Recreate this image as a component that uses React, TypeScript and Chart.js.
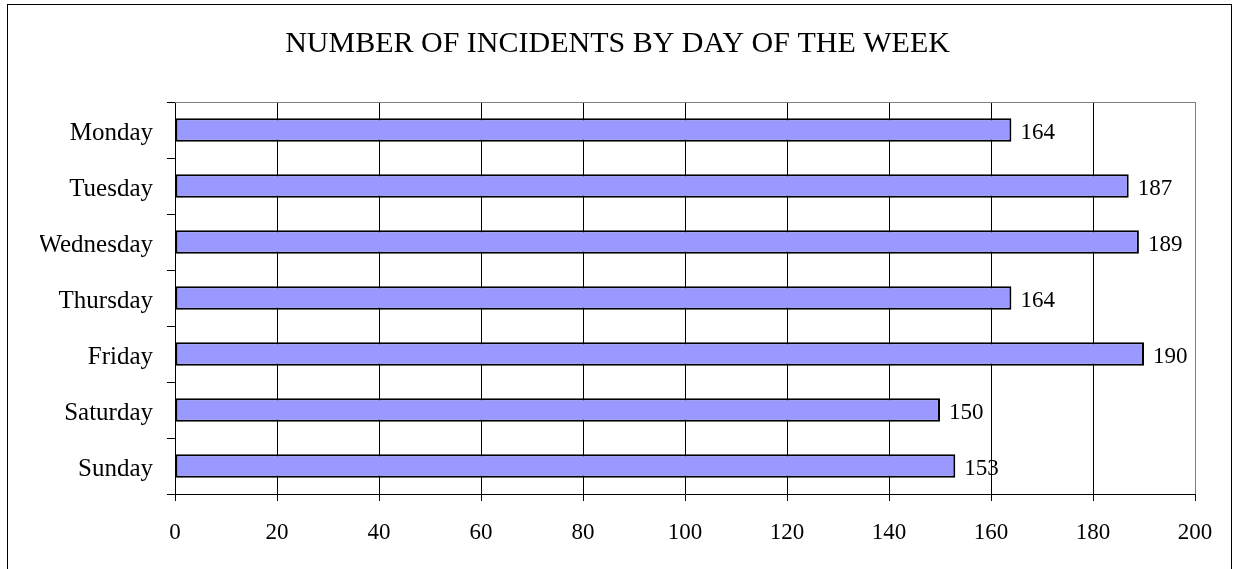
import React, { useEffect, useRef } from "react";
import { Chart, registerables } from "chart.js";

Chart.register(...registerables);

const days = ["Monday", "Tuesday", "Wednesday", "Thursday", "Friday", "Saturday", "Sunday"];
const incidents = [164, 187, 189, 164, 190, 150, 153];
const titleText = "NUMBER OF INCIDENTS BY DAY OF THE WEEK";
const xMin = 0;
const xMax = 200;
const xStep = 20;

const FONT = "'Liberation Serif', 'Times New Roman', Times, serif";

export default function App() {
  const ref = useRef<HTMLCanvasElement>(null);

  useEffect(() => {
    const canvas = ref.current;
    if (!canvas) return;

    const valueLabels = {
      id: "valueLabels",
      afterDatasetsDraw(chart: any) {
        const ctx = chart.ctx;
        const meta = chart.getDatasetMeta(0);
        ctx.save();
        ctx.font = `23px ${FONT}`;
        ctx.fillStyle = "#000";
        ctx.textAlign = "left";
        ctx.textBaseline = "middle";
        meta.data.forEach((el: any, i: number) => {
          ctx.fillText(String(incidents[i]), el.x + 9, el.y + 3);
        });
        ctx.restore();
      },
    };

    const plotFrame = {
      id: "plotFrame",
      beforeDatasetsDraw(chart: any) {
        const { ctx, chartArea: a } = chart;
        ctx.save();
        ctx.strokeStyle = "#808080";
        ctx.lineWidth = 1;
        ctx.beginPath();
        ctx.moveTo(a.left, Math.round(a.top) + 0.5);
        ctx.lineTo(a.right, Math.round(a.top) + 0.5);
        ctx.stroke();
        ctx.restore();
      },
    };

    const chart = new Chart(canvas, {
      type: "bar",
      data: {
        labels: days,
        datasets: [
          {
            data: incidents,
            backgroundColor: "#9999FF",
            borderColor: "#000",
            borderWidth: 2,
            borderSkipped: false,
            barPercentage: 0.42,
            categoryPercentage: 1,
          },
        ],
      },
      options: {
        indexAxis: "y",
        responsive: false,
        animation: false,
        devicePixelRatio: 1,
        layout: { padding: { left: 40, right: 40, top: 0, bottom: 0 } },
        plugins: {
          legend: { display: false },
          tooltip: { enabled: false },
          title: {
            display: true,
            text: titleText,
            color: "#000",
            font: { family: FONT, size: 30, weight: "normal", lineHeight: 1.2 },
            padding: { top: 26, bottom: 40 },
          },
        },
        scales: {
          x: {
            type: "linear",
            min: xMin,
            max: xMax,
            ticks: {
              stepSize: xStep,
              color: "#000",
              font: { family: FONT, size: 23 },
              padding: 18,
              maxRotation: 0,
            },
            grid: {
              color: (c: any) => (c.tick && c.tick.value === xMax ? "#808080" : "#000"),
              tickColor: "#000",
              tickLength: 7,
              lineWidth: 1,
            },
            border: { color: "#000", width: 1 },
            afterFit: (s: any) => {
              s.height = 75;
            },
          },
          y: {
            ticks: {
              color: "#000",
              font: { family: FONT, size: 25 },
              padding: 14,
              labelOffset: 3,
            },
            grid: {
              drawOnChartArea: false,
              tickColor: "#000",
              tickLength: 8,
              offset: true,
            },
            border: { color: "#000", width: 1 },
            afterFit: (s: any) => {
              s.width = 135;
            },
          },
        },
      },
      plugins: [plotFrame, valueLabels],
    } as any);

    return () => chart.destroy();
  }, []);

  return (
    <div
      style={{
        position: "fixed",
        left: 0,
        top: 0,
        width: 1235,
        height: 569,
        overflow: "hidden",
        background: "#fff",
      }}
    >
      <canvas
        ref={ref}
        width={1235}
        height={569}
        style={{ position: "absolute", left: 0, top: 0, width: 1235, height: 569 }}
      />
      <div
        style={{
          position: "absolute",
          left: 7,
          top: 4,
          width: 1225,
          height: 700,
          border: "1px solid #000",
          boxSizing: "border-box",
          pointerEvents: "none",
        }}
      />
    </div>
  );
}
